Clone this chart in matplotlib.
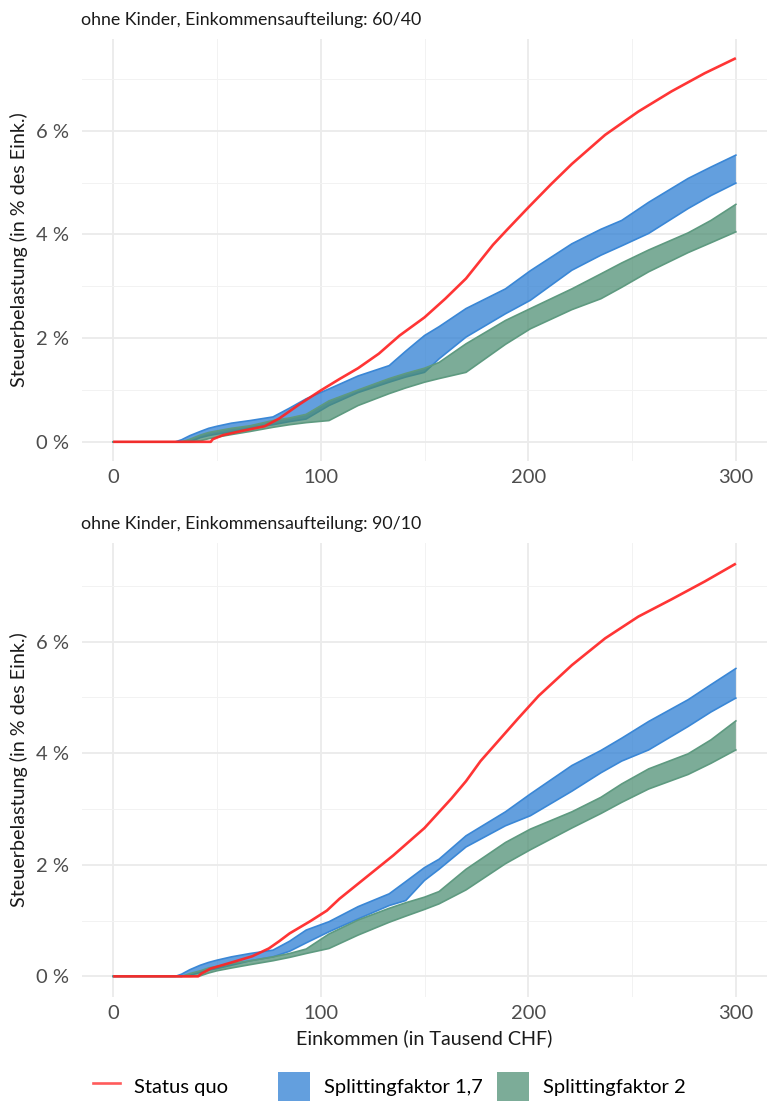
import matplotlib
matplotlib.use("Agg")
import matplotlib.pyplot as plt
import matplotlib.patches as mpatches
from matplotlib.lines import Line2D
from matplotlib.ticker import FixedLocator

plt.rcParams["font.family"] = ["Lato", "DejaVu Sans"]

# shared income grid (thousand CHF) for the splitting bands
inc = [0, 30, 33, 37, 42, 46, 50, 57, 66, 77, 85, 93, 104, 118, 133, 141,
       150, 157, 170, 189, 201, 221, 235, 245, 258, 277, 288, 300]

# --- 60/40 income split ---
sq_inc_6040 = [0, 47, 48, 53, 62, 73, 80, 90, 100, 109, 118, 128, 138, 150,
               160, 170, 176, 183, 190, 200, 211, 221, 237, 253, 269, 285, 300]
sq_6040 = [0, 0, 0.05, 0.13, 0.21, 0.30, 0.45, 0.73, 0.99, 1.21, 1.42, 1.70,
           2.05, 2.40, 2.76, 3.15, 3.45, 3.80, 4.10, 4.52, 4.97, 5.36, 5.92,
           6.37, 6.76, 7.11, 7.40]
s17_hi_6040 = [0, 0, 0.04, 0.12, 0.20, 0.26, 0.30, 0.36, 0.41, 0.48, 0.65,
               0.83, 1.02, 1.27, 1.47, 1.75, 2.05, 2.22, 2.57, 2.95, 3.30,
               3.82, 4.10, 4.27, 4.62, 5.08, 5.30, 5.53]
s17_lo_6040 = [0, 0, 0, 0, 0.08, 0.12, 0.15, 0.19, 0.26, 0.33, 0.39, 0.44,
               0.70, 0.95, 1.15, 1.25, 1.34, 1.60, 2.02, 2.47, 2.73, 3.31,
               3.60, 3.78, 4.02, 4.50, 4.75, 4.99]
s2_hi_6040 = [0, 0, 0, 0.05, 0.13, 0.18, 0.21, 0.26, 0.31, 0.41, 0.46, 0.53,
              0.79, 1.00, 1.22, 1.32, 1.42, 1.53, 1.89, 2.34, 2.57, 2.95,
              3.24, 3.45, 3.70, 4.03, 4.27, 4.58]
s2_lo_6040 = [0, 0, 0, 0, 0.02, 0.06, 0.09, 0.14, 0.20, 0.28, 0.33, 0.37,
              0.41, 0.70, 0.93, 1.04, 1.15, 1.22, 1.34, 1.88, 2.18, 2.55,
              2.76, 2.98, 3.28, 3.65, 3.84, 4.05]

# --- 90/10 income split ---
sq_inc_9010 = [0, 41, 42.5, 47, 58, 67, 75, 80, 85, 95, 103, 109, 118, 128,
               135, 150, 163, 170, 177, 186, 195, 205, 221, 237, 253, 269, 285, 300]
sq_9010 = [0, 0, 0.05, 0.14, 0.26, 0.36, 0.50, 0.63, 0.77, 0.99, 1.18, 1.39,
           1.66, 1.96, 2.17, 2.66, 3.19, 3.50, 3.86, 4.24, 4.62, 5.03, 5.58,
           6.06, 6.45, 6.76, 7.08, 7.40]
s17_hi_9010 = [0, 0, 0.04, 0.12, 0.20, 0.25, 0.29, 0.35, 0.41, 0.47, 0.63,
               0.83, 0.98, 1.25, 1.48, 1.70, 1.95, 2.10, 2.52, 2.95, 3.27,
               3.78, 4.05, 4.27, 4.57, 4.96, 5.23, 5.52]
s17_lo_9010 = [0, 0, 0, 0.02, 0.07, 0.11, 0.14, 0.20, 0.28, 0.35, 0.45, 0.60,
               0.80, 1.03, 1.27, 1.36, 1.72, 1.92, 2.32, 2.70, 2.88, 3.32,
               3.65, 3.86, 4.06, 4.48, 4.74, 4.99]
s2_hi_9010 = [0, 0, 0, 0.05, 0.10, 0.15, 0.18, 0.23, 0.28, 0.35, 0.41, 0.49,
              0.76, 1.01, 1.22, 1.32, 1.42, 1.52, 1.92, 2.40, 2.64, 2.95,
              3.21, 3.45, 3.72, 3.99, 4.24, 4.58]
s2_lo_9010 = [0, 0, 0, 0, 0.01, 0.06, 0.10, 0.15, 0.21, 0.28, 0.34, 0.41,
              0.50, 0.74, 0.97, 1.08, 1.20, 1.30, 1.55, 2.02, 2.27, 2.66,
              2.92, 3.12, 3.36, 3.62, 3.82, 4.06]

panel_titles = ["ohne Kinder, Einkommensaufteilung: 60/40",
                "ohne Kinder, Einkommensaufteilung: 90/10"]
x_ticks = [0, 100, 200, 300]
y_ticks = [0, 2, 4, 6]
y_ticklabels = ["0 %", "2 %", "4 %", "6 %"]
legend_labels = ["Status quo", "Splittingfaktor 1,7", "Splittingfaktor 2"]

RED = "#ff2424"
BLUE = "#2f7fd3"
BLUE_EDGE = "#3a87d6"
GREEN = "#4a8c70"
GREEN_EDGE = "#5e9a80"
TXT = "#1a1a1a"
TICK = "#4d4d4d"
FS_TITLE = 12.8
FS_AXIS = 14.2
FS_TICK = 14.5
FS_LEG = 14.5

W, H = 767, 1101
fig = plt.figure(figsize=(W / 100, H / 100), dpi=100)


def px_box(left, top, right, bottom):
    return [left / W, 1 - bottom / H, (right - left) / W, (bottom - top) / H]


ax_top = fig.add_axes(px_box(82, 39, 767, 461))
ax_bot = fig.add_axes(px_box(82, 543, 767, 997))

panels = [
    (ax_top, sq_inc_6040, sq_6040, s17_lo_6040, s17_hi_6040, s2_lo_6040, s2_hi_6040),
    (ax_bot, sq_inc_9010, sq_9010, s17_lo_9010, s17_hi_9010, s2_lo_9010, s2_hi_9010),
]

for i, (ax, sq_x, sq_y, b_lo, b_hi, g_lo, g_hi) in enumerate(panels):
    ax.set_facecolor("white")
    for s in ax.spines.values():
        s.set_visible(False)

    ax.fill_between(inc, b_lo, b_hi, facecolor=BLUE, alpha=0.75, lw=0, zorder=2)
    ax.plot(inc, b_lo, color=BLUE_EDGE, lw=1.2, zorder=2.1)
    ax.plot(inc, b_hi, color=BLUE_EDGE, lw=1.2, zorder=2.1)
    ax.fill_between(inc, g_lo, g_hi, facecolor=GREEN, alpha=0.72, lw=0, zorder=3)
    ax.plot(inc, g_lo, color=GREEN_EDGE, lw=1.2, zorder=3.1)
    ax.plot(inc, g_hi, color=GREEN_EDGE, lw=1.2, zorder=3.1)
    ax.plot(sq_x, sq_y, color=RED, lw=1.9, alpha=0.92, zorder=4,
            solid_capstyle="butt", solid_joinstyle="round")

    ax.set_xlim(-15, 315)
    ax.set_ylim(-0.37, 7.77)
    ax.xaxis.set_major_locator(FixedLocator(x_ticks))
    ax.xaxis.set_minor_locator(FixedLocator([50, 150, 250]))
    ax.yaxis.set_major_locator(FixedLocator(y_ticks))
    ax.yaxis.set_minor_locator(FixedLocator([1, 3, 5, 7]))
    ax.set_yticklabels(y_ticklabels)
    ax.grid(which="major", color="#ebebeb", lw=1.3, zorder=0)
    ax.grid(which="minor", color="#f2f2f2", lw=0.7, zorder=0)
    ax.set_axisbelow(True)
    ax.tick_params(which="both", length=0, labelsize=FS_TICK, colors=TICK)
    ax.tick_params(axis="y", pad=9)
    ax.tick_params(axis="x", pad=6)
    ax.set_ylabel("Steuerbelastung (in % des Eink.)", fontsize=FS_AXIS,
                  color=TXT, labelpad=6)
    ax.set_title(panel_titles[i], loc="left", fontsize=FS_TITLE, color=TXT,
                 pad=10, x=-0.001)

ax_bot.set_xlabel("Einkommen (in Tausend CHF)", fontsize=FS_AXIS, color=TXT,
                  labelpad=5)

# one legend entry per key so each sits at its own horizontal slot
handles = [
    Line2D([], [], color=RED, lw=1.9, alpha=0.75),
    mpatches.Patch(facecolor=BLUE, alpha=0.75, edgecolor="none"),
    mpatches.Patch(facecolor=GREEN, alpha=0.72, edgecolor="none"),
]
key_left_px = [93, 278, 497]
key_len = [1.35, 1.6, 1.6]
for h, lab, kx, kl in zip(handles, legend_labels, key_left_px, key_len):
    fig.legend([h], [lab], loc="center left", frameon=False,
               bbox_to_anchor=(kx / W, 1 - 1087 / H), fontsize=FS_LEG,
               handlelength=kl, handleheight=1.9, handletextpad=0.7,
               borderpad=0, borderaxespad=0)

fig.savefig("out.png", dpi=100, facecolor="white")
